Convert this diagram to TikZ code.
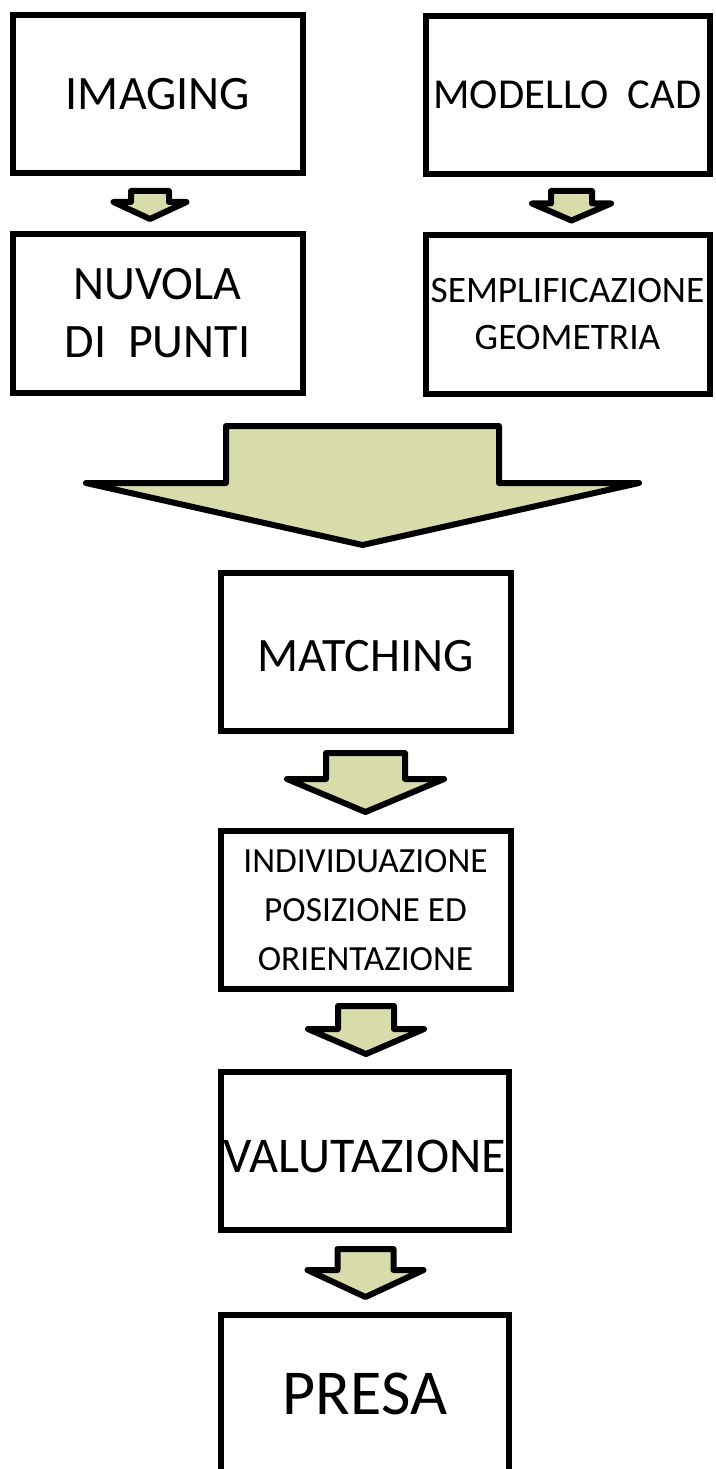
\documentclass[tikz,border=0pt]{standalone}
\usepackage{fontspec}
\setmainfont{Carlito}
\usetikzlibrary{calc}
\definecolor{arrowfill}{RGB}{216,220,170}

\tikzset{
  stage/.style={draw, line width=4.5pt, minimum width=217.5pt, minimum height=118.5pt, inner sep=0pt, align=center},
  blockarrow/.style={draw, fill=arrowfill, line width=4.5pt, line join=round}
}

% #1 top, #2 end, #3 shaft half width, #4 head half width, #5 head length
\newcommand{\blockarrow}[5]{%
  \coordinate (ba top) at #1;
  \coordinate (ba end) at #2;
  \coordinate (ba tip) at (ba top |- ba end);
  \draw[blockarrow] ($(ba top)+(-#3,0)$) -- ($(ba top)+(#3,0)$)
    -- ($(ba tip)+(#3,-#5)$) -- ($(ba tip)+(#4,-#5)$) -- (ba tip)
    -- ($(ba tip)+(-#4,-#5)$) -- ($(ba tip)+(-#3,-#5)$) -- cycle;
}

\begin{document}
\begin{tikzpicture}[x=0.75pt, y=-0.75pt]
  \useasboundingbox (0,0) rectangle (715,1469);
  \clip (0,0) rectangle (715,1469);

  % top row
  \node[stage, font=\fontsize{36}{43.5}\selectfont] (imaging) at (158,94) {IMAGING};
  \node[stage, minimum width=213pt, font=\fontsize{32}{40}\selectfont] (modello) at (567.5,95) {MODELLO~~CAD};
  \node[stage, font=\fontsize{36}{43.5}\selectfont] (nuvola) at (157.5,313.5) {NUVOLA\\DI~~PUNTI};
  \node[stage, minimum width=213pt, font=\fontsize{28}{35.25}\selectfont] (semplif) at (567.5,314.5) {SEMPLIFICAZIONE\\GEOMETRIA};

  % main column
  \node[stage, font=\fontsize{36}{43.5}\selectfont] (matching) at (365.5,651.5) {\raisebox{-3.5pt}[\height][0pt]{MATCHING}};
  \node[stage, font=\fontsize{26.5}{36.75}\selectfont] (posa) at (365.5,910) {INDIVIDUAZIONE\\POSIZIONE ED\\ORIENTAZIONE};
  \node[stage, minimum width=216pt, font=\fontsize{37.5}{45}\selectfont] (valutazione) at (365,1151) {\raisebox{-4pt}[\height][0pt]{VALUTAZIONE}};
  \node[stage, minimum width=216pt, font=\fontsize{48}{56}\selectfont] (presa) at (365,1394) {PRESA};

  % arrows
  \blockarrow{($(imaging.south)+(-8,15)$)}{($(nuvola.north)+(0,-12.5)$)}{19}{36.5}{17}
  \blockarrow{($(modello.south)+(4,14)$)}{($(semplif.north)+(0,-12)$)}{20.5}{39.5}{17}
  \blockarrow{($(nuvola.south -| matching.north)+(-3,30.5)$)}{($(matching.north)+(0,-24.5)$)}{136.5}{276.5}{62}
  \blockarrow{($(matching.south)+(0,19.5)$)}{($(posa.north)+(0,-16)$)}{39.5}{78.5}{33}
  \blockarrow{($(posa.south)+(0.5,14)$)}{($(valutazione.north)+(0,-15)$)}{28}{58}{25}
  \blockarrow{($(valutazione.south)+(0.5,16)$)}{($(presa.north)+(0,-15)$)}{28}{58}{27}
\end{tikzpicture}
\end{document}
